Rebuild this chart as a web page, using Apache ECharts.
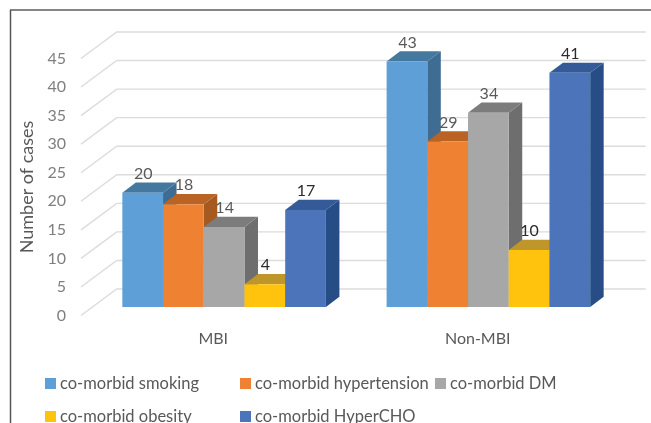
<!DOCTYPE html>
<html>
<head>
<meta charset="utf-8">
<style>html,body{margin:0;padding:0;background:#fff}#c{width:651px;height:423px}</style>
<script src="https://cdn.jsdelivr.net/npm/echarts@6/dist/echarts.min.js"></script>
</head>
<body>
<div id="c"></div>
<script>
const categories = ['MBI', 'Non-MBI'];
const smoking = [20, 43];
const hypertension = [18, 29];
const dm = [14, 34];
const obesity = [4, 10];
const hyperCho = [17, 41];
const yTicks = [0, 5, 10, 15, 20, 25, 30, 35, 40, 45];

const FONT = 'Lato, "Open Sans", sans-serif';

// name, values, front / top / side shades, label colour
const seriesDefs = [
  ['co-morbid smoking', smoking, '#5F9FD8', '#44789F', '#3F6C92', '#595959'],
  ['co-morbid hypertension', hypertension, '#EE8232', '#B96425', '#A65A20', '#595959'],
  ['co-morbid DM', dm, '#A6A7A6', '#7C7C7C', '#6E6E6E', '#595959'],
  ['co-morbid obesity', obesity, '#FFC30E', '#BF962A', '#A88420', '#2b2b2b'],
  ['co-morbid HyperCHO', hyperCho, '#4C74BA', '#355A98', '#264D85', '#2b2b2b']
];

// Oblique projection: wall depth and bar depth, in pixels
const WALL_DX = 35.7, WALL_DY = 26.5;
const BAR_DX = 13.5, BAR_DY = 10.2;
const BAR_PER_BAND = 1 / 6.49;

function renderWall(params, api) {
  const cs = params.coordSys;
  const y = api.coord([0, api.value(0)])[1];
  const x0 = cs.x, x1 = cs.x + cs.width;
  return {
    type: 'polyline',
    shape: { points: [[x0, y], [x0 + WALL_DX, y - WALL_DY], [x1 + WALL_DX, y - WALL_DY]] },
    style: { stroke: '#DCDCDC', lineWidth: 1.4, fill: null }
  };
}

function barRenderer(idx, def) {
  return function (params, api) {
    const cat = api.value(0), val = api.value(1);
    const band = api.size([1, 0])[0];
    const w = band * BAR_PER_BAND;
    const center = api.coord([cat, 0])[0];
    const x0 = center + (idx - 2.5) * w, x1 = x0 + w;
    const yBase = api.coord([cat, 0])[1];
    const yTop = api.coord([cat, val])[1];
    const base = 10 + idx * 3;
    return {
      type: 'group',
      children: [
        { type: 'polygon', z2: base,
          shape: { points: [[x1, yBase], [x1 + BAR_DX, yBase - BAR_DY], [x1 + BAR_DX, yTop - BAR_DY], [x1, yTop]] },
          style: { fill: def[4] } },
        { type: 'polygon', z2: base + 1,
          shape: { points: [[x0, yTop], [x1, yTop], [x1 + BAR_DX, yTop - BAR_DY], [x0 + BAR_DX, yTop - BAR_DY]] },
          style: { fill: def[3] } },
        { type: 'rect', z2: base + 2,
          shape: { x: x0, y: yTop, width: w, height: yBase - yTop },
          style: { fill: def[2] } },
        { type: 'text', z2: 100,
          style: { text: String(val), x: (x0 + x1) / 2 + 0.5, y: yTop - 19, align: 'center', verticalAlign: 'middle',
                   font: '16px ' + FONT, fill: def[5] } }
      ]
    };
  };
}

const legendSlots = [[45, 375], [240, 375], [435, 375], [45, 408], [240, 408]];

const option = {
  animation: false,
  backgroundColor: '#fff',
  textStyle: { fontFamily: FONT },
  grid: [
    { left: 81, top: 58.5, width: 529, height: 257 },
    { left: 92, top: 50, width: 528.5, height: 257 }
  ],
  xAxis: [
    { type: 'category', gridIndex: 0, data: categories,
      axisLine: { show: false }, axisTick: { show: false }, splitLine: { show: false },
      axisLabel: { color: '#595959', fontSize: 16, margin: 15, fontFamily: FONT } },
    { type: 'category', gridIndex: 1, data: categories, show: false }
  ],
  yAxis: [
    { type: 'value', gridIndex: 0, min: 0, max: 45, interval: 5,
      name: 'Number of cases', nameLocation: 'middle', nameGap: 43,
      nameTextStyle: { color: '#595959', fontSize: 18, fontFamily: FONT },
      axisLine: { show: false }, axisTick: { show: false }, splitLine: { show: false },
      axisLabel: { color: '#7F7F7F', fontSize: 16, margin: 15, fontFamily: FONT } },
    { type: 'value', gridIndex: 1, min: 0, max: 45, interval: 5, show: false, splitLine: { show: false } }
  ],
  legend: seriesDefs.map((d, i) => ({
    data: [d[0]], left: legendSlots[i][0], top: legendSlots[i][1], padding: 0,
    itemWidth: 11, itemHeight: 11, itemGap: 0, icon: 'rect', selectedMode: false,
    textStyle: { color: '#595959', fontSize: 16.5, fontFamily: FONT, padding: [0, 0, 3, -1] }
  })),
  series: [
    { type: 'custom', name: 'wall', xAxisIndex: 0, yAxisIndex: 0, silent: true,
      data: yTicks.map(v => [v]), encode: { y: 0 }, renderItem: renderWall, z: 1 }
  ].concat(seriesDefs.map((d, i) => ({
    type: 'custom', name: d[0], xAxisIndex: 1, yAxisIndex: 1, z: 2,
    itemStyle: { color: d[2] },
    data: d[1].map((v, c) => [c, v]), encode: { x: 0, y: 1 },
    renderItem: barRenderer(i, d)
  }))),
  graphic: [
    { type: 'line', shape: { x1: 10, y1: 10, x2: 651, y2: 10 }, style: { stroke: '#858585', lineWidth: 2 } },
    { type: 'line', shape: { x1: 10.5, y1: 10, x2: 10.5, y2: 423 }, style: { stroke: '#555555', lineWidth: 1.5 } }
  ]
};

echarts.init(document.getElementById('c'), null, { renderer: 'canvas' }).setOption(option);
</script>
</body>
</html>
